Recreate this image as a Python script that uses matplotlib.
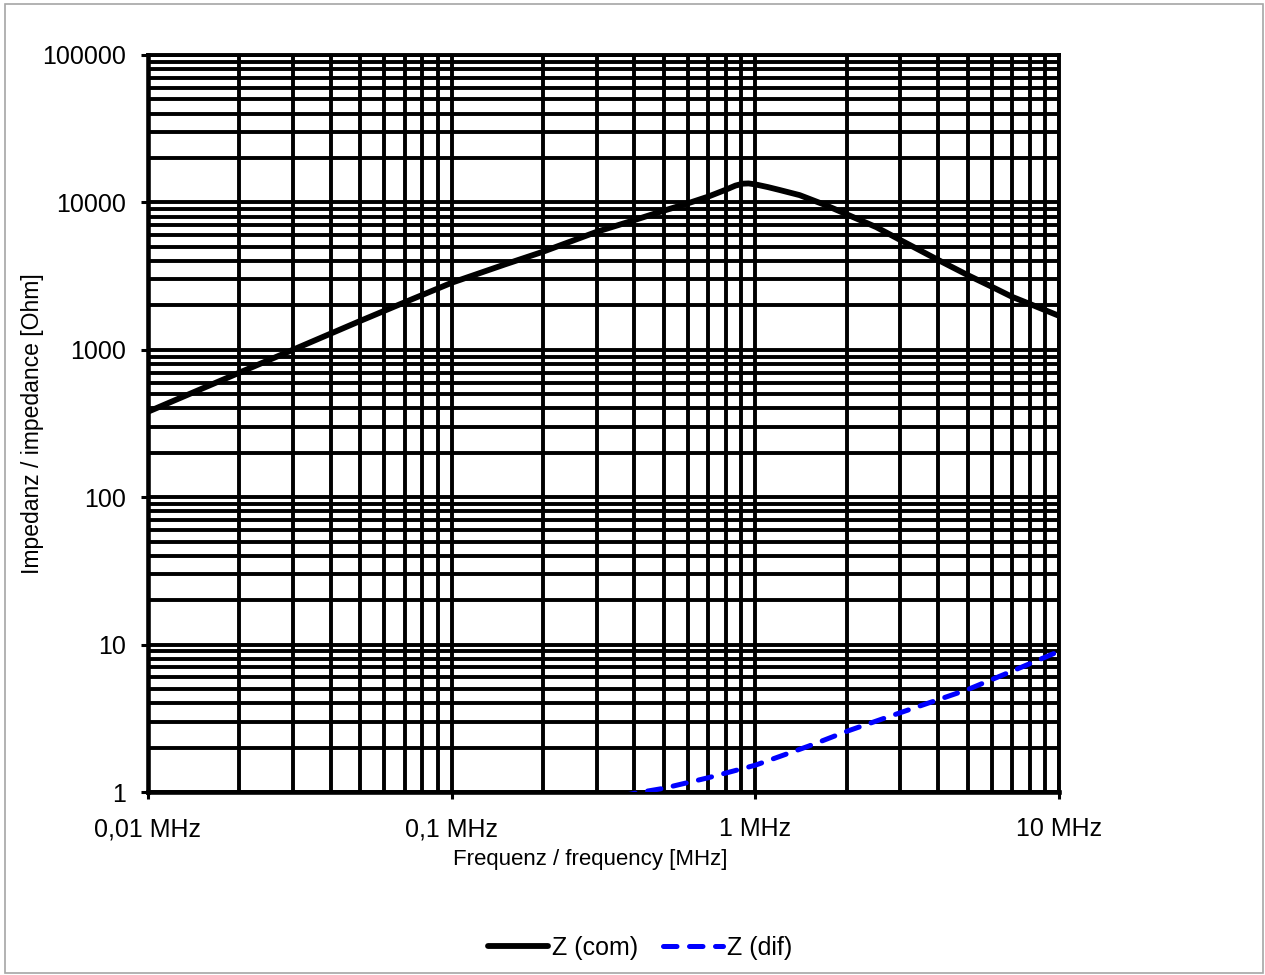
import matplotlib
matplotlib.use("Agg")
import matplotlib.pyplot as plt
from matplotlib.patches import Rectangle
from matplotlib.ticker import FixedLocator, FixedFormatter, LogLocator, NullFormatter

plt.rcParams['font.family'] = ['Liberation Sans', 'DejaVu Sans']

# impedance curves, f in MHz, Z in Ohm
f_com = [0.01, 0.02, 0.03, 0.05, 0.07, 0.1, 0.15, 0.2, 0.3, 0.4, 0.5, 0.6, 0.7,
         0.8, 0.86, 0.91, 0.95, 1.0, 1.1, 1.2, 1.4, 1.7, 2.0, 2.5, 3.0, 4.0, 5.0,
         6.0, 7.0, 8.0, 10.0]
z_com = [380, 700, 1000, 1570, 2100, 2850, 3800, 4630, 6310, 7590, 8790, 9860, 10950,
         12200, 13000, 13400, 13450, 13250, 12700, 12150, 11200, 9600, 8300, 6800,
         5560, 4070, 3215, 2680, 2290, 2050, 1700]

f_dif = [0.3, 0.4, 0.5, 0.7, 1.0, 1.5, 2.0, 3.0, 5.0, 7.0, 10.0]
z_dif = [0.87, 0.98, 1.06, 1.25, 1.52, 2.05, 2.58, 3.45, 4.95, 6.6, 9.0]

x_ticks = [0.01, 0.1, 1, 10]
x_labels = ["0,01 MHz", "0,1 MHz", "1 MHz", "10 MHz"]
y_ticks = [1, 10, 100, 1000, 10000, 100000]
y_labels = ["1", "10", "100", "1000", "10000", "100000"]

fig = plt.figure(figsize=(12.65, 9.75), dpi=100)
fig.patches.append(Rectangle((5 / 1265, 2 / 975), 1258 / 1265, 969 / 975,
                             transform=fig.transFigure, fill=False,
                             edgecolor="#a6a6a6", lw=1.2))

ax = fig.add_axes([148 / 1265, 1 - 792 / 975, 911 / 1265, 737 / 975])
ax.set_xscale("log")
ax.set_yscale("log")
ax.set_xlim(0.01, 10)
ax.set_ylim(1, 100000)

ax.xaxis.set_major_locator(FixedLocator(x_ticks))
ax.xaxis.set_major_formatter(FixedFormatter(x_labels))
ax.yaxis.set_major_locator(FixedLocator(y_ticks))
ax.yaxis.set_major_formatter(FixedFormatter(y_labels))
ax.xaxis.set_minor_locator(LogLocator(base=10, subs=range(2, 10)))
ax.yaxis.set_minor_locator(LogLocator(base=10, subs=range(2, 10)))
ax.xaxis.set_minor_formatter(NullFormatter())
ax.yaxis.set_minor_formatter(NullFormatter())

ax.grid(which="both", color="black", lw=2.8)
ax.set_axisbelow(True)
for s in ax.spines.values():
    s.set_linewidth(2.8)
ax.spines["left"].set_linewidth(3.3)
ax.spines["bottom"].set_linewidth(3.3)
ax.tick_params(which="major", length=5, width=2.2, direction="out", labelsize=18)
ax.tick_params(axis="x", pad=13)
ax.tick_params(axis="y", pad=11)
ax.tick_params(which="minor", length=0)

ax.plot(f_com, z_com, color="black", lw=4.2, label="Z (com)", zorder=3,
        solid_capstyle="round", solid_joinstyle="round")
ax.plot(f_dif, z_dif, color="#0000ff", lw=3.6, label="Z (dif)", zorder=3,
        dashes=(2.7, 2.5), dash_capstyle="round")

ax.set_xlabel("Frequenz / frequency [MHz]", fontsize=16)
ax.xaxis.set_label_coords(0.485, -0.077)
ax.set_ylabel("Impedanz / impedance [Ohm]", fontsize=16.5)
ax.yaxis.set_label_coords(-0.114, 0.5)

fig.legend(loc="center", bbox_to_anchor=(640 / 1265, 1 - 948 / 975), ncol=2,
           frameon=False, fontsize=18, handlelength=2.4, handletextpad=0.15,
           columnspacing=1.0)

fig.savefig("out.png", dpi=100, facecolor="white")
